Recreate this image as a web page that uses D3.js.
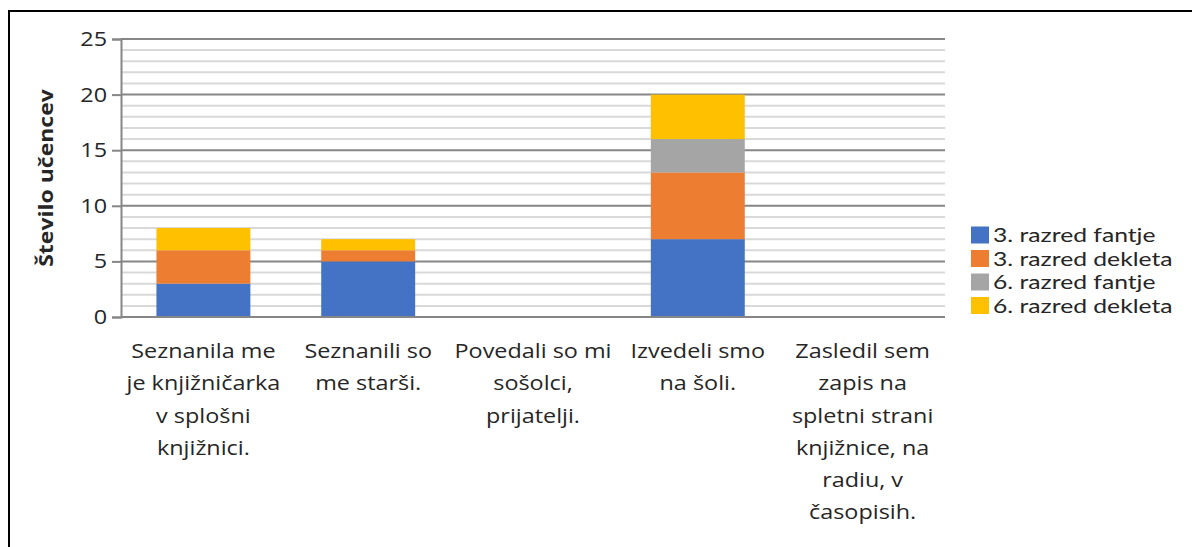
<!DOCTYPE html>
<html>
<head>
<meta charset="utf-8">
<script src="https://cdn.jsdelivr.net/npm/d3@7"></script>
<style>
  body { margin: 0; background: #fff; }
  svg { display: block; font-family: "Open Sans", Lato, sans-serif; }
</style>
</head>
<body>
<div id="chart"></div>
<script>
// kategorije (oznake po vrsticah kot v izvirniku)
const categories = ['c1', 'c2', 'c3', 'c4', 'c5'];
const categoryLines = [
  ['Seznanila me', 'je knjižničarka', 'v splošni', 'knjižnici.'],
  ['Seznanili so', 'me starši.'],
  ['Povedali so mi', 'sošolci,', 'prijatelji.'],
  ['Izvedeli smo', 'na šoli.'],
  ['Zasledil sem', 'zapis na', 'spletni strani', 'knjižnice, na', 'radiu, v', 'časopisih.']
];
const seriesNames = ['3. razred fantje', '3. razred dekleta', '6. razred fantje', '6. razred dekleta'];
const fantje3 = [3, 5, 0, 7, 0];
const dekleta3 = [3, 1, 0, 6, 0];
const fantje6 = [0, 0, 0, 3, 0];
const dekleta6 = [2, 1, 0, 4, 0];
const yTicks = [0, 5, 10, 15, 20, 25];
const colors = ['#4472C4', '#ED7D31', '#A5A5A5', '#FFC000'];

const W = 1192, H = 547;
const m = { left: 121, right: 247, top: 39, bottom: 230 };
const FS = 20, SX = 1.17; // izvirnik je vodoravno raztegnjen

const svg = d3.select('#chart').append('svg')
  .attr('width', W).attr('height', H);

// okvir
svg.append('rect')
  .attr('x', 9).attr('y', 11).attr('width', 1300).attr('height', 700)
  .attr('fill', 'none').attr('stroke', '#000').attr('stroke-width', 2);

const x = d3.scaleBand().domain(categories)
  .range([m.left, W - m.right]).paddingInner(0.43).paddingOuter(0.215);
const y = d3.scaleLinear().domain([0, 25]).range([H - m.bottom, m.top]);

// pomožne mrežne črte
svg.append('g').selectAll('line')
  .data(d3.range(1, 26).filter(v => v % 5 !== 0))
  .join('line')
  .attr('x1', m.left).attr('x2', W - m.right)
  .attr('y1', d => y(d)).attr('y2', d => y(d))
  .attr('stroke', '#d9d9d9').attr('stroke-width', 2);

// glavne mrežne črte
svg.append('g').selectAll('line')
  .data(yTicks)
  .join('line')
  .attr('x1', m.left).attr('x2', W - m.right)
  .attr('y1', d => y(d)).attr('y2', d => y(d))
  .attr('stroke', '#868686').attr('stroke-width', 2);

const table = categories.map((c, i) => ({
  cat: c,
  [seriesNames[0]]: fantje3[i],
  [seriesNames[1]]: dekleta3[i],
  [seriesNames[2]]: fantje6[i],
  [seriesNames[3]]: dekleta6[i]
}));
const stacked = d3.stack().keys(seriesNames)(table);

svg.append('g').selectAll('g')
  .data(stacked)
  .join('g')
  .attr('fill', (d, i) => colors[i])
  .selectAll('rect')
  .data(d => d)
  .join('rect')
  .attr('x', d => x(d.data.cat))
  .attr('width', x.bandwidth())
  .attr('y', d => y(d[1]))
  .attr('height', d => y(d[0]) - y(d[1]));

// os y
const yAxis = svg.append('g')
  .attr('transform', `translate(${m.left},0)`)
  .call(d3.axisLeft(y).tickValues(yTicks).tickSize(9).tickPadding(6));
yAxis.select('.domain').attr('stroke', '#868686').attr('stroke-width', 2);
yAxis.selectAll('.tick line').attr('stroke', '#868686').attr('stroke-width', 2);
yAxis.selectAll('.tick text')
  .attr('x', 0)
  .attr('transform', `translate(-14,0) scale(${SX},1)`)
  .attr('font-size', FS).attr('fill', '#262626')
  .attr('font-family', '"Open Sans", Lato, sans-serif');

// spodnja os
svg.append('line')
  .attr('x1', m.left).attr('x2', W - m.right)
  .attr('y1', y(0)).attr('y2', y(0))
  .attr('stroke', '#868686').attr('stroke-width', 2);

// oznake kategorij
const xl = svg.append('g').selectAll('text')
  .data(categories)
  .join('text')
  .attr('transform', c => `translate(${x(c) + x.bandwidth() / 2},${y(0) + 41}) scale(${SX},1)`)
  .attr('text-anchor', 'middle')
  .attr('font-size', FS)
  .attr('fill', '#262626');
xl.each(function (c, i) {
  const t = d3.select(this);
  categoryLines[i].forEach((line, k) => {
    t.append('tspan')
      .attr('x', 0)
      .attr('y', k * 32.3)
      .text(line);
  });
});

// naslov osi y
svg.append('text')
  .attr('transform', `translate(53,${(y(0) + y(25)) / 2}) rotate(-90) scale(1.15,1)`)
  .attr('text-anchor', 'middle')
  .attr('font-size', FS).attr('font-weight', 'bold')
  .attr('fill', '#262626')
  .text('Število učencev');

// legenda (Lato ima nižjo vrstico, da se okvirji ne prekrivajo)
const lg = svg.append('g').selectAll('g')
  .data(seriesNames)
  .join('g')
  .attr('transform', (d, i) => `translate(971,${235 + i * 23.5})`);
lg.append('rect')
  .attr('x', 0).attr('y', -8.5).attr('width', 18).attr('height', 17)
  .attr('fill', (d, i) => colors[i]);
lg.append('text')
  .attr('transform', 'translate(22,7) scale(1.3,1)')
  .attr('font-family', 'Lato, sans-serif')
  .attr('font-size', 19).attr('fill', '#262626')
  .text(d => d);
</script>
</body>
</html>
